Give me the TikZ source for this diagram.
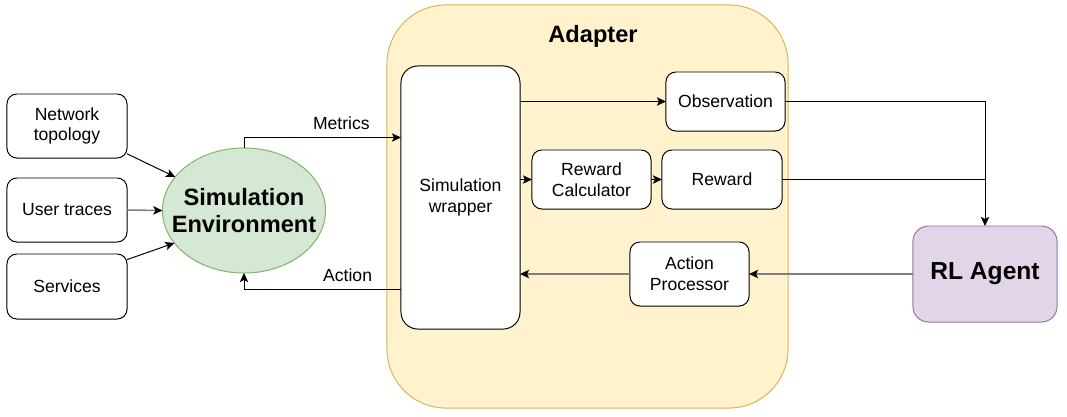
\documentclass[tikz,border=0pt]{standalone}
\usepackage{fontspec}
\setmainfont{Liberation Sans}
\usetikzlibrary{shapes.geometric,arrows.meta}
\definecolor{adfill}{HTML}{FFF2CC}
\definecolor{adline}{HTML}{D6B656}
\definecolor{envfill}{HTML}{D5E8D4}
\definecolor{envline}{HTML}{82B366}
\definecolor{agfill}{HTML}{E1D5E7}
\definecolor{agline}{HTML}{9673A6}
\definecolor{conngray}{HTML}{7F7F7F}
\begin{document}
\begin{tikzpicture}[x=0.025cm, y=-0.025cm, line width=0.7pt,
	box/.style={draw, rounded corners=7pt, fill=white, inner sep=0pt, outer sep=0pt, align=center, font=\fontsize{12.5}{14.7}\selectfont},
	bigtext/.style={font=\fontsize{16.8}{19.6}\selectfont\bfseries, align=center},
	conn/.style={-{Stealth[length=6.5pt,width=6pt,inset=1.5pt]}},
	grayconn/.style={draw=conngray, line width=1.1pt, -{Stealth[length=6.5pt,width=6pt,inset=1.5pt,black]}},
	lbl/.style={font=\fontsize{12.5}{14.7}\selectfont, inner sep=5.5pt}]
	\useasboundingbox (0,0) rectangle (1067,416);
	
	%adapter
	\node[draw=adline, fill=adfill, rounded corners=42pt, minimum width=10.025cm, minimum height=10.075cm, inner sep=0pt] (adapter) at (587.5,206.5) {};
	\node[bigtext] (adaptertitle) at (593,36) {Adapter};
	
	%inputs
	\node[box, minimum width=3cm, minimum height=1.6cm] (net) at (67,126) {Network\\topology};
	\node[box, minimum width=3cm, minimum height=1.6cm] (usr) at (67,210) {User traces};
	\node[box, minimum width=3cm, minimum height=1.625cm] (srv) at (67,286.5) {Services};
	
	\node[ellipse, draw=envline, fill=envfill, minimum width=4.075cm, minimum height=3.125cm, inner sep=0pt, outer sep=0pt,
		label={[bigtext]center:Simulation\\Environment}] (env) at (244,210.5) {};
	
	\node[box, rounded corners=12pt, minimum width=2.975cm, minimum height=6.575cm] (wrap) at (460.5,197.5) {Simulation\\wrapper};
	\node[box, minimum width=2.975cm, minimum height=1.475cm] (obs) at (725.5,101.5) {Observation};
	\node[box, minimum width=2.975cm, minimum height=1.475cm] (rc) at (591.5,179.5) {Reward\\Calculator};
	\node[box, minimum width=3cm, minimum height=1.475cm] (rew) at (722,179.5) {Reward};
	\node[box, minimum width=2.975cm, minimum height=1.6cm] (ap) at (689.5,274) {Action\\Processor};
	
	\node[draw=agline, fill=agfill, rounded corners=11pt, minimum width=3.6cm, minimum height=2.4cm, inner sep=0pt, outer sep=0pt,
		font=\fontsize{17.5}{20}\selectfont\bfseries] (agent) at (985,274) {RL Agent};
	
	%inputs to environment
	\draw[conn] ([yshift=3pt]net.south east) -- (env.154);
	\draw[grayconn] (usr.east) -- (env.west);
	\draw[conn] ([yshift=-4pt]srv.north east) -- (env.205);
	
	%environment <-> wrapper
	\draw[conn] (env.north) |- (wrap.west |- 0,137.5) node[lbl, pos=0.81, above] {Metrics};
	\draw[conn] (wrap.west |- 0,289.5) -| (env.south) node[lbl, pos=0.17, above] {Action};
	
	%inside adapter
	\draw[conn] (wrap.east |- obs.west) -- (obs.west);
	\draw[conn] (wrap.east |- rc.west) -- (rc.west);
	\draw[conn] (rc.east) -- (rew.west);
	\draw[grayconn] (ap.west) -- (wrap.east |- ap.west);
	
	%agent
	\draw[conn] (obs.east) -| (agent.north);
	\draw (rew.east) -- (rew.east -| agent.north);
	\draw[grayconn] (agent.west) -- (ap.east);
\end{tikzpicture}
\end{document}
